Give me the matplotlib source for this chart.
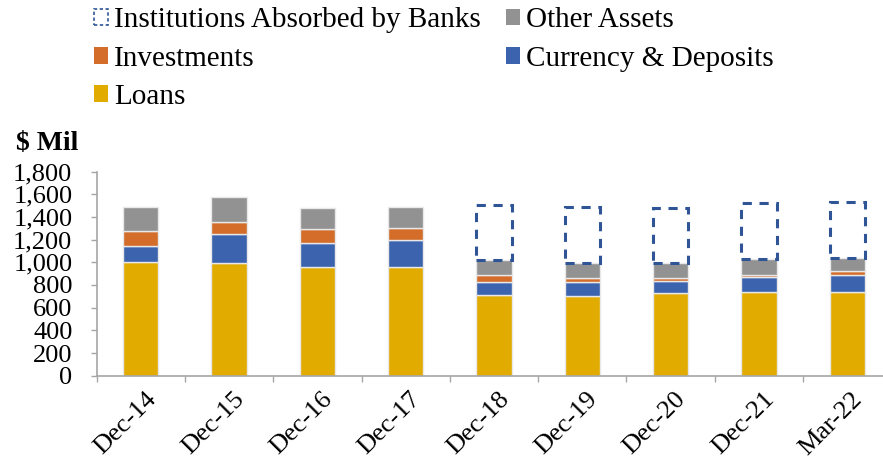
import matplotlib
matplotlib.use("Agg")
import matplotlib.pyplot as plt
from matplotlib.patches import Patch
import matplotlib.transforms as mtransforms
import numpy as np

plt.rcParams['font.family'] = ['Liberation Serif', 'DejaVu Serif']

# values ($ Mil)
periods = ["Dec-14", "Dec-15", "Dec-16", "Dec-17", "Dec-18", "Dec-19", "Dec-20", "Dec-21", "Mar-22"]
loans = [1005, 991, 961, 955, 709, 706, 726, 738, 738]
currency = [142, 261, 212, 245, 120, 123, 106, 129, 153]
investments = [132, 100, 118, 105, 62, 35, 32, 24, 35]
other = [212, 224, 191, 186, 126, 130, 127, 138, 112]
absorbed = [0, 0, 0, 0, 491, 494, 488, 491, 491]

c_loans = "#E1AB00"
c_cur = "#3C64AE"
c_inv = "#D46D29"
c_oth = "#929292"
c_abs = "#2F5597"
grey = "#A6A6A6"

fig = plt.figure(figsize=(8.83, 4.69), dpi=100)
ax = fig.add_axes([0.1095, 0.199, 0.900, 0.435])

x = np.arange(len(periods))
w = 0.40
ec = "#E8E8E8"
bottom = np.zeros(len(periods))
for vals, col in [(loans, c_loans), (currency, c_cur), (investments, c_inv), (other, c_oth)]:
    ax.bar(x, vals, w, bottom=bottom, color=col, edgecolor=ec, linewidth=1.0)
    bottom = bottom + np.array(vals)

# dashed outline for absorbed institutions
for i in range(len(periods)):
    if absorbed[i] > 0:
        ax.bar(x[i], absorbed[i], w, bottom=bottom[i], fill=False, edgecolor=c_abs,
               linewidth=2.2, linestyle=(0, (3, 2.5)))

ax.set_xlim(-0.5, len(periods) - 0.5)
ax.set_ylim(0, 1800)
ax.set_yticks(np.arange(0, 1801, 200))
ax.set_yticklabels([f"{v:,}" for v in range(0, 1801, 200)], fontsize=19)

ax.set_xticks(x)
ax.set_xticklabels(periods, rotation=45, ha="right", rotation_mode="anchor", fontsize=19)
ax.tick_params(axis="x", which="major", length=0, pad=9)
shift = mtransforms.ScaledTranslation(4 / 100, 0, fig.dpi_scale_trans)
for lab in ax.get_xticklabels():
    lab.set_transform(lab.get_transform() + shift)
ax.set_xticks(np.arange(-0.5, len(periods), 1), minor=True)
ax.tick_params(axis="x", which="minor", length=4.5, color=grey, width=1)
ax.tick_params(axis="y", length=4.5, color=grey, width=1, pad=13)

for s in ["top", "right"]:
    ax.spines[s].set_visible(False)
for s in ["left", "bottom"]:
    ax.spines[s].set_color(grey)
    ax.spines[s].set_linewidth(1.2)

fig.text(0.018, 0.695, "$ Mil", fontsize=20, fontweight="bold", va="center")

handles = [
    Patch(facecolor="none", edgecolor=c_abs, linestyle=(0, (2, 1.5)), linewidth=1.2),
    Patch(facecolor=c_inv),
    Patch(facecolor=c_loans),
    Patch(facecolor=c_oth),
    Patch(facecolor=c_cur),
]
labels = ["Institutions Absorbed by Banks", "Investments", "Loans", "Other Assets", "Currency & Deposits"]
fig.legend(handles, labels, loc="upper left", bbox_to_anchor=(0.093, 1.009), ncol=2,
           frameon=False, fontsize=21, handlelength=0.5, handleheight=0.5,
           handletextpad=0.2, labelspacing=0.42, columnspacing=0.85, borderaxespad=0)

fig.savefig("out.png", dpi=100)
